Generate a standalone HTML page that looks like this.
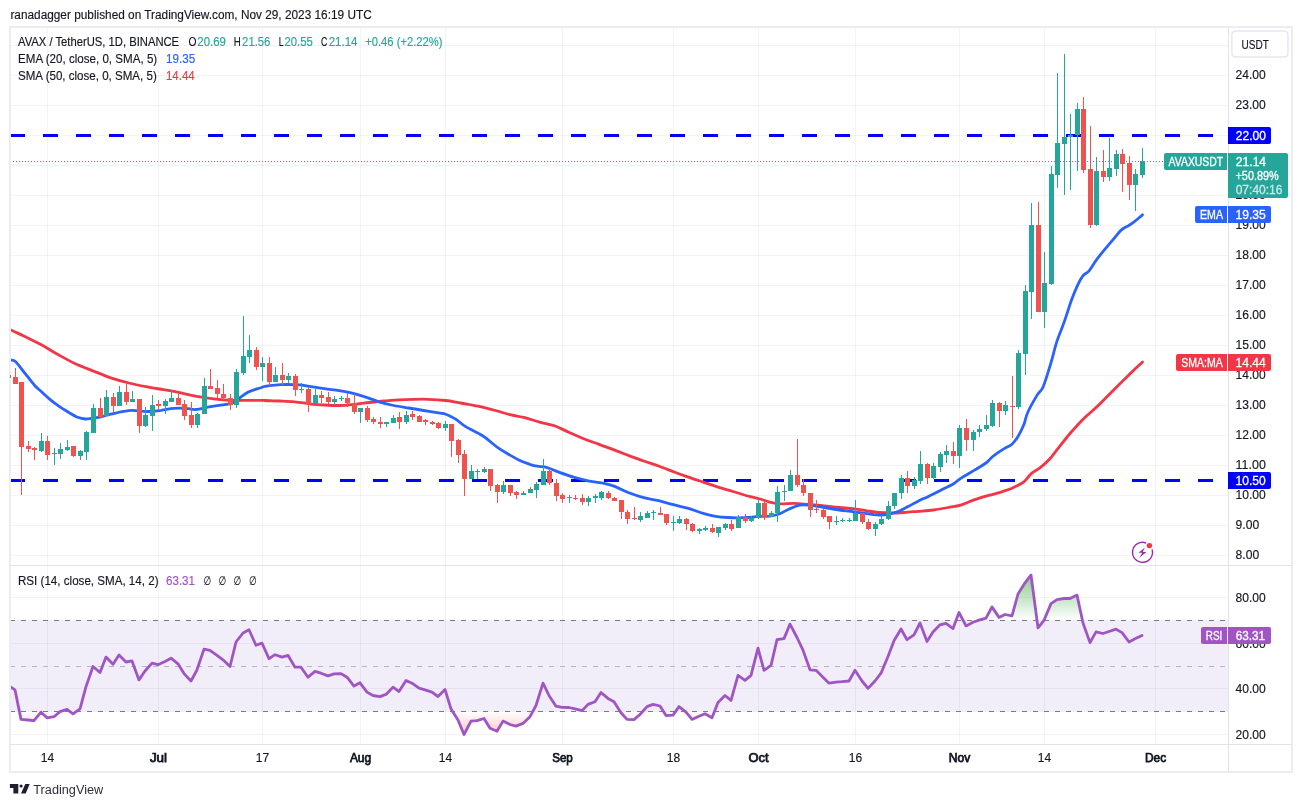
<!DOCTYPE html>
<html><head><meta charset="utf-8"><title>AVAX / TetherUS chart</title>
<style>html,body{margin:0;padding:0;background:#fff}svg{display:block;will-change:transform}</style></head>
<body>
<svg width="1302" height="807" viewBox="0 0 1302 807" font-family='"Liberation Sans", "DejaVu Sans", sans-serif' font-size="12">
<rect width="1302" height="807" fill="#fff"/>
<defs>
<clipPath id="cm"><rect x="10" y="27" width="1218.5" height="538.5"/></clipPath>
<clipPath id="cr"><rect x="10" y="565.5" width="1218.5" height="179.0"/></clipPath>
<linearGradient id="gg" gradientUnits="userSpaceOnUse" x1="0" y1="551.6" x2="0" y2="620.2"><stop offset="0" stop-color="#4caf50" stop-opacity="1"/><stop offset="1" stop-color="#4caf50" stop-opacity="0"/></linearGradient>
<linearGradient id="gr" gradientUnits="userSpaceOnUse" x1="0" y1="711.6" x2="0" y2="780.3"><stop offset="0" stop-color="#ff5252" stop-opacity="0"/><stop offset="1" stop-color="#ff5252" stop-opacity="1"/></linearGradient>
</defs>
<text x="10.4" y="18.6" fill="#131722" stroke="#131722" stroke-width="0.15" textLength="361.3" lengthAdjust="spacingAndGlyphs">ranadagger published on TradingView.com, Nov 29, 2023 16:19 UTC</text>
<g stroke="rgba(42,46,57,0.06)" stroke-width="1">
<line x1="47.5" y1="27" x2="47.5" y2="744.5"/>
<line x1="158.5" y1="27" x2="158.5" y2="744.5"/>
<line x1="262.5" y1="27" x2="262.5" y2="744.5"/>
<line x1="360.5" y1="27" x2="360.5" y2="744.5"/>
<line x1="445.5" y1="27" x2="445.5" y2="744.5"/>
<line x1="562.5" y1="27" x2="562.5" y2="744.5"/>
<line x1="673.5" y1="27" x2="673.5" y2="744.5"/>
<line x1="758.5" y1="27" x2="758.5" y2="744.5"/>
<line x1="855.5" y1="27" x2="855.5" y2="744.5"/>
<line x1="959.5" y1="27" x2="959.5" y2="744.5"/>
<line x1="1044.5" y1="27" x2="1044.5" y2="744.5"/>
<line x1="1155.5" y1="27" x2="1155.5" y2="744.5"/>
<line x1="10" y1="555.5" x2="1228.5" y2="555.5"/>
<line x1="10" y1="525.5" x2="1228.5" y2="525.5"/>
<line x1="10" y1="495.5" x2="1228.5" y2="495.5"/>
<line x1="10" y1="465.5" x2="1228.5" y2="465.5"/>
<line x1="10" y1="435.5" x2="1228.5" y2="435.5"/>
<line x1="10" y1="405.5" x2="1228.5" y2="405.5"/>
<line x1="10" y1="375.5" x2="1228.5" y2="375.5"/>
<line x1="10" y1="345.5" x2="1228.5" y2="345.5"/>
<line x1="10" y1="315.5" x2="1228.5" y2="315.5"/>
<line x1="10" y1="285.5" x2="1228.5" y2="285.5"/>
<line x1="10" y1="255.5" x2="1228.5" y2="255.5"/>
<line x1="10" y1="225.5" x2="1228.5" y2="225.5"/>
<line x1="10" y1="195.5" x2="1228.5" y2="195.5"/>
<line x1="10" y1="165.5" x2="1228.5" y2="165.5"/>
<line x1="10" y1="135.5" x2="1228.5" y2="135.5"/>
<line x1="10" y1="105.5" x2="1228.5" y2="105.5"/>
<line x1="10" y1="75.5" x2="1228.5" y2="75.5"/>
<line x1="10" y1="45.5" x2="1228.5" y2="45.5"/>
<line x1="10" y1="597.5" x2="1228.5" y2="597.5"/>
<line x1="10" y1="643.5" x2="1228.5" y2="643.5"/>
<line x1="10" y1="688.5" x2="1228.5" y2="688.5"/>
<line x1="10" y1="734.5" x2="1228.5" y2="734.5"/>
</g>
<g clip-path="url(#cm)">
<line x1="10" y1="135.5" x2="1228.5" y2="135.5" stroke="#0000ff" stroke-width="3" stroke-dasharray="15 18"/>
<line x1="10" y1="480.5" x2="1228.5" y2="480.5" stroke="#0000ff" stroke-width="3" stroke-dasharray="15 18"/>
<path d="M10.4 329.7 C12.8 330.9 19.7 334.0 24.8 336.4 C29.9 338.9 35.5 341.7 40.9 344.6 C46.3 347.5 51.4 350.9 57.0 354.0 C62.6 357.1 68.2 360.3 74.3 363.2 C80.5 366.1 88.0 368.9 94.2 371.4 C100.4 373.9 105.7 376.1 111.5 378.1 C117.3 380.0 123.1 381.6 128.9 383.0 C134.7 384.5 140.4 385.6 146.2 386.7 C152.0 387.9 157.8 388.7 163.6 389.7 C169.4 390.7 175.1 391.8 180.9 392.9 C186.7 394.1 192.5 395.6 198.3 396.7 C204.0 397.7 210.2 398.5 215.6 399.1 C221.0 399.8 225.1 400.2 230.5 400.4 C235.9 400.6 242.9 400.4 247.8 400.4 C252.7 400.4 257.1 400.3 260.0 400.4 C262.8 400.4 261.6 400.4 264.9 400.5 C268.2 400.7 274.8 400.8 279.7 401.0 C284.7 401.2 289.7 401.3 294.6 401.8 C299.6 402.2 304.5 403.2 309.5 403.8 C314.4 404.3 319.4 404.7 324.3 405.0 C329.3 405.3 334.3 405.6 339.2 405.5 C344.2 405.4 349.1 404.8 354.1 404.3 C359.0 403.8 364.0 403.1 369.0 402.5 C373.9 402.0 378.9 401.5 383.8 401.0 C388.8 400.6 393.7 400.1 398.7 399.8 C403.7 399.5 408.6 399.4 413.6 399.3 C418.5 399.2 423.1 399.1 428.4 399.3 C433.8 399.5 440.4 399.9 445.8 400.5 C451.2 401.2 455.3 402.1 460.7 403.0 C466.0 404.0 472.2 405.0 478.0 406.2 C483.8 407.5 490.0 409.1 495.4 410.5 C500.7 411.9 505.1 413.5 510.0 414.7 C514.9 415.9 519.8 416.4 524.8 417.7 C529.7 418.9 534.7 420.8 539.7 422.1 C544.6 423.5 549.6 424.1 554.5 425.8 C559.5 427.6 564.4 430.4 569.4 432.5 C574.3 434.7 579.3 437.0 584.3 439.0 C589.2 441.0 594.2 442.6 599.1 444.4 C604.1 446.3 609.0 448.0 614.0 449.9 C619.0 451.7 623.9 453.7 628.9 455.6 C633.8 457.4 638.8 459.3 643.7 461.0 C648.7 462.8 653.7 464.2 658.6 466.0 C663.6 467.8 668.5 469.8 673.5 471.7 C678.4 473.6 683.4 475.4 688.4 477.1 C693.3 478.9 698.3 480.5 703.2 482.1 C708.2 483.8 713.1 485.5 718.1 487.1 C723.0 488.6 728.0 490.0 733.0 491.5 C737.9 493.0 743.3 494.7 747.8 496.0 C752.3 497.2 756.3 497.9 760.0 499.0 C763.6 500.0 766.5 501.3 769.8 502.1 C773.1 502.9 775.6 503.6 779.7 503.8 C783.9 504.0 789.7 503.2 794.6 503.3 C799.6 503.5 804.5 504.2 809.5 504.6 C814.4 505.0 819.4 505.3 824.3 505.8 C829.3 506.3 834.3 507.1 839.2 507.5 C844.2 508.0 849.5 508.2 854.1 508.8 C858.6 509.3 862.4 510.1 866.5 510.8 C870.6 511.4 874.7 512.1 878.9 512.5 C883.0 512.9 887.1 513.0 891.3 513.0 C895.4 513.0 899.1 512.8 903.7 512.5 C908.2 512.2 913.6 511.7 918.5 511.3 C923.5 510.9 928.4 510.6 933.4 510.0 C938.4 509.4 943.7 508.4 948.3 507.5 C952.8 506.7 956.4 506.3 960.7 505.1 C965.0 503.8 969.3 501.5 974.1 499.9 C978.9 498.3 985.1 496.5 989.7 495.2 C994.3 493.9 997.9 493.0 1001.6 491.8 C1005.3 490.6 1008.3 489.9 1012.0 488.2 C1015.7 486.5 1020.7 484.2 1023.9 481.8 C1027.1 479.4 1028.6 476.0 1031.3 473.6 C1034.0 471.2 1037.2 470.1 1040.2 467.7 C1043.2 465.3 1046.2 462.7 1049.2 459.5 C1052.2 456.3 1054.6 452.7 1058.1 448.4 C1061.6 444.1 1065.8 438.4 1070.0 433.5 C1074.2 428.6 1078.9 423.3 1083.3 418.9 C1087.7 414.5 1091.9 411.6 1096.6 407.1 C1101.3 402.7 1106.5 397.1 1111.4 392.2 C1116.4 387.2 1121.1 382.4 1126.3 377.4 C1131.5 372.3 1139.8 364.5 1142.5 361.9" fill="none" stroke="#f23645" stroke-width="2.8" stroke-linejoin="round" stroke-linecap="round"/>
<path d="M10.4 360.2 C11.2 360.4 13.0 359.3 15.4 361.5 C17.8 363.6 21.6 369.1 24.8 373.1 C28.0 377.1 32.0 382.5 34.7 385.5 C37.4 388.5 38.4 388.9 40.9 391.2 C43.4 393.5 46.5 396.6 49.6 399.1 C52.7 401.7 56.2 404.3 59.5 406.6 C62.8 408.8 66.5 411.0 69.4 412.8 C72.3 414.5 74.1 415.9 76.8 417.0 C79.5 418.0 82.2 418.8 85.5 419.0 C88.8 419.1 93.1 418.3 96.7 417.7 C100.2 417.1 103.3 416.1 106.6 415.2 C109.9 414.4 112.4 413.6 116.5 412.8 C120.6 411.9 126.4 410.5 131.4 410.3 C136.3 410.1 141.3 411.5 146.2 411.5 C151.2 411.5 156.5 410.8 161.1 410.3 C165.6 409.7 169.4 408.6 173.5 408.3 C177.6 408.0 182.2 408.1 185.9 408.3 C189.6 408.5 191.7 409.8 195.8 409.5 C199.9 409.3 204.9 407.6 210.7 406.6 C216.4 405.6 225.9 404.8 230.5 403.6 C235.0 402.4 235.0 401.0 237.9 399.1 C240.8 397.2 244.2 394.1 247.8 392.2 C251.5 390.3 257.1 388.9 260.0 388.0 C262.8 387.0 262.4 386.9 264.9 386.4 C267.3 386.0 271.1 385.5 274.8 385.2 C278.5 384.8 283.0 384.5 287.2 384.4 C291.3 384.4 295.8 384.6 299.6 384.9 C303.3 385.3 305.3 385.8 309.5 386.4 C313.6 387.0 319.4 387.9 324.3 388.6 C329.3 389.4 334.3 389.8 339.2 390.6 C344.2 391.5 349.5 392.5 354.1 393.6 C358.6 394.7 362.4 396.0 366.5 397.3 C370.6 398.7 374.3 400.4 378.9 401.8 C383.4 403.1 388.8 404.5 393.7 405.5 C398.7 406.5 403.7 407.2 408.6 408.0 C413.6 408.8 418.5 409.6 423.5 410.5 C428.4 411.3 434.6 412.3 438.4 412.9 C442.1 413.6 442.9 413.1 445.8 414.2 C448.7 415.2 452.4 417.1 455.7 419.1 C459.0 421.2 461.1 423.8 465.6 426.6 C470.2 429.4 477.6 432.5 483.0 436.0 C488.3 439.5 493.3 444.5 497.8 447.6 C502.3 450.8 506.3 452.9 510.0 455.1 C513.6 457.2 516.5 459.0 519.8 460.5 C523.1 462.1 526.8 463.3 529.7 464.3 C532.6 465.2 534.9 465.8 537.2 466.2 C539.4 466.7 541.3 466.4 543.4 466.7 C545.4 467.1 546.9 467.5 549.6 468.5 C552.3 469.4 555.3 471.0 559.5 472.4 C563.6 473.9 569.4 476.0 574.3 477.4 C579.3 478.8 584.3 480.1 589.2 481.1 C594.2 482.1 600.0 482.5 604.1 483.3 C608.2 484.2 609.9 484.5 614.0 486.1 C618.1 487.6 623.9 490.8 628.9 492.8 C633.8 494.7 638.8 496.4 643.7 497.7 C648.7 499.0 653.7 499.5 658.6 500.7 C663.6 501.9 668.5 503.4 673.5 504.7 C678.4 505.9 683.4 506.9 688.4 508.4 C693.3 509.8 698.7 512.0 703.2 513.3 C707.8 514.7 711.5 515.6 715.6 516.3 C719.7 517.0 724.3 517.3 728.0 517.5 C731.7 517.8 734.6 517.8 737.9 517.8 C741.2 517.8 744.2 517.8 747.8 517.5 C751.5 517.3 756.3 516.5 760.0 516.3 C763.6 516.1 766.5 516.6 769.8 516.2 C773.1 515.8 776.4 515.0 779.7 513.7 C783.0 512.5 786.3 510.2 789.7 508.8 C793.0 507.3 796.3 505.7 799.6 505.1 C802.9 504.4 805.3 504.7 809.5 505.1 C813.6 505.5 819.4 506.7 824.3 507.5 C829.3 508.4 834.3 509.3 839.2 510.0 C844.2 510.7 849.5 511.1 854.1 511.8 C858.6 512.4 862.4 513.2 866.5 513.7 C870.6 514.3 875.2 514.9 878.9 515.0 C882.6 515.1 885.5 514.9 888.8 514.2 C892.1 513.6 895.4 512.6 898.7 511.3 C902.0 509.9 905.3 508.0 908.6 506.3 C911.9 504.6 915.2 502.5 918.5 500.9 C921.8 499.2 924.7 498.2 928.4 496.4 C932.2 494.6 936.7 492.3 940.8 490.2 C945.0 488.1 950.0 485.9 953.2 484.0 C956.4 482.1 956.4 481.2 960.0 478.8 C963.6 476.4 970.4 472.6 974.9 469.9 C979.4 467.2 983.7 464.7 986.7 462.5 C989.7 460.3 989.7 458.9 992.7 456.5 C995.7 454.1 1001.4 450.4 1004.6 448.4 C1007.8 446.3 1009.8 446.2 1012.0 444.2 C1014.2 442.2 1016.0 439.8 1018.0 436.5 C1020.0 433.2 1022.3 428.6 1023.9 424.6 C1025.5 420.6 1025.4 417.6 1027.6 412.7 C1029.8 407.8 1034.7 399.2 1037.3 394.9 C1039.9 390.6 1041.0 391.9 1043.2 386.7 C1045.4 381.5 1048.4 371.3 1050.7 363.7 C1053.0 356.2 1054.6 348.5 1056.9 341.4 C1059.2 334.4 1061.9 328.6 1064.3 321.6 C1066.8 314.6 1069.5 305.5 1071.8 299.3 C1074.1 293.1 1076.1 288.4 1078.0 284.4 C1079.8 280.5 1081.1 278.0 1082.9 275.8 C1084.8 273.5 1086.9 273.5 1089.1 270.8 C1091.4 268.1 1093.7 263.6 1096.6 259.7 C1099.5 255.7 1103.6 250.8 1106.5 247.3 C1109.4 243.8 1111.4 241.5 1113.9 238.6 C1116.4 235.7 1118.9 232.1 1121.4 229.9 C1123.8 227.7 1126.7 226.7 1128.8 225.5 C1130.8 224.2 1131.4 224.0 1133.7 222.2 C1136.0 220.4 1141.0 216.0 1142.5 214.8" fill="none" stroke="#2962ff" stroke-width="2.8" stroke-linejoin="round" stroke-linecap="round"/>
<rect x="15" y="368" width="1" height="16" fill="#ef5350"/><rect x="13" y="377" width="5" height="7" fill="#ef5350"/>
<rect x="21" y="382" width="1" height="113" fill="#ef5350"/><rect x="19" y="382" width="5" height="65" fill="#ef5350"/>
<rect x="28" y="441" width="1" height="11" fill="#ef5350"/><rect x="26" y="446" width="5" height="3" fill="#ef5350"/>
<rect x="34" y="447" width="1" height="13" fill="#ef5350"/><rect x="32" y="448" width="5" height="2" fill="#ef5350"/>
<rect x="41" y="433" width="1" height="19" fill="#26a69a"/><rect x="39" y="441" width="5" height="10" fill="#26a69a"/>
<rect x="47" y="436" width="1" height="24" fill="#ef5350"/><rect x="45" y="441" width="5" height="14" fill="#ef5350"/>
<rect x="54" y="448" width="1" height="17" fill="#26a69a"/><rect x="52" y="453" width="5" height="1" fill="#26a69a"/>
<rect x="60" y="443" width="1" height="16" fill="#26a69a"/><rect x="58" y="449" width="5" height="5" fill="#26a69a"/>
<rect x="67" y="440" width="1" height="11" fill="#26a69a"/><rect x="65" y="447" width="5" height="3" fill="#26a69a"/>
<rect x="73" y="446" width="1" height="11" fill="#ef5350"/><rect x="71" y="446" width="5" height="10" fill="#ef5350"/>
<rect x="80" y="450" width="1" height="10" fill="#26a69a"/><rect x="78" y="451" width="5" height="5" fill="#26a69a"/>
<rect x="86" y="431" width="1" height="29" fill="#26a69a"/><rect x="84" y="432" width="5" height="20" fill="#26a69a"/>
<rect x="93" y="404" width="1" height="29" fill="#26a69a"/><rect x="91" y="408" width="5" height="25" fill="#26a69a"/>
<rect x="100" y="398" width="1" height="20" fill="#ef5350"/><rect x="98" y="408" width="5" height="9" fill="#ef5350"/>
<rect x="106" y="390" width="1" height="26" fill="#26a69a"/><rect x="104" y="397" width="5" height="19" fill="#26a69a"/>
<rect x="113" y="393" width="1" height="20" fill="#ef5350"/><rect x="111" y="397" width="5" height="9" fill="#ef5350"/>
<rect x="119" y="386" width="1" height="20" fill="#26a69a"/><rect x="117" y="392" width="5" height="14" fill="#26a69a"/>
<rect x="126" y="384" width="1" height="21" fill="#ef5350"/><rect x="124" y="392" width="5" height="10" fill="#ef5350"/>
<rect x="132" y="391" width="1" height="11" fill="#26a69a"/><rect x="130" y="399" width="5" height="3" fill="#26a69a"/>
<rect x="139" y="399" width="1" height="34" fill="#ef5350"/><rect x="137" y="399" width="5" height="27" fill="#ef5350"/>
<rect x="145" y="407" width="1" height="20" fill="#26a69a"/><rect x="143" y="415" width="5" height="11" fill="#26a69a"/>
<rect x="152" y="395" width="1" height="36" fill="#26a69a"/><rect x="150" y="405" width="5" height="11" fill="#26a69a"/>
<rect x="158" y="400" width="1" height="9" fill="#ef5350"/><rect x="156" y="404" width="5" height="2" fill="#ef5350"/>
<rect x="165" y="399" width="1" height="15" fill="#26a69a"/><rect x="163" y="401" width="5" height="5" fill="#26a69a"/>
<rect x="171" y="390" width="1" height="12" fill="#26a69a"/><rect x="169" y="398" width="5" height="4" fill="#26a69a"/>
<rect x="178" y="394" width="1" height="11" fill="#ef5350"/><rect x="176" y="398" width="5" height="7" fill="#ef5350"/>
<rect x="184" y="400" width="1" height="20" fill="#ef5350"/><rect x="182" y="404" width="5" height="12" fill="#ef5350"/>
<rect x="191" y="402" width="1" height="26" fill="#ef5350"/><rect x="189" y="415" width="5" height="10" fill="#ef5350"/>
<rect x="197" y="413" width="1" height="15" fill="#26a69a"/><rect x="195" y="414" width="5" height="11" fill="#26a69a"/>
<rect x="204" y="378" width="1" height="36" fill="#26a69a"/><rect x="202" y="386" width="5" height="28" fill="#26a69a"/>
<rect x="210" y="369" width="1" height="20" fill="#ef5350"/><rect x="208" y="386" width="5" height="3" fill="#ef5350"/>
<rect x="217" y="380" width="1" height="18" fill="#ef5350"/><rect x="215" y="388" width="5" height="6" fill="#ef5350"/>
<rect x="223" y="384" width="1" height="16" fill="#ef5350"/><rect x="221" y="394" width="5" height="4" fill="#ef5350"/>
<rect x="230" y="394" width="1" height="16" fill="#ef5350"/><rect x="228" y="398" width="5" height="7" fill="#ef5350"/>
<rect x="236" y="369" width="1" height="39" fill="#26a69a"/><rect x="234" y="372" width="5" height="33" fill="#26a69a"/>
<rect x="243" y="316" width="1" height="59" fill="#26a69a"/><rect x="241" y="356" width="5" height="17" fill="#26a69a"/>
<rect x="249" y="335" width="1" height="28" fill="#26a69a"/><rect x="247" y="350" width="5" height="7" fill="#26a69a"/>
<rect x="256" y="347" width="1" height="23" fill="#ef5350"/><rect x="254" y="350" width="5" height="17" fill="#ef5350"/>
<rect x="262" y="357" width="1" height="24" fill="#26a69a"/><rect x="260" y="363" width="5" height="4" fill="#26a69a"/>
<rect x="269" y="357" width="1" height="29" fill="#ef5350"/><rect x="267" y="363" width="5" height="19" fill="#ef5350"/>
<rect x="275" y="367" width="1" height="15" fill="#26a69a"/><rect x="273" y="375" width="5" height="7" fill="#26a69a"/>
<rect x="282" y="363" width="1" height="22" fill="#ef5350"/><rect x="280" y="375" width="5" height="5" fill="#ef5350"/>
<rect x="288" y="373" width="1" height="10" fill="#26a69a"/><rect x="286" y="376" width="5" height="4" fill="#26a69a"/>
<rect x="295" y="374" width="1" height="22" fill="#ef5350"/><rect x="293" y="376" width="5" height="14" fill="#ef5350"/>
<rect x="301" y="383" width="1" height="10" fill="#26a69a"/><rect x="299" y="389" width="5" height="1" fill="#26a69a"/>
<rect x="308" y="387" width="1" height="25" fill="#ef5350"/><rect x="306" y="389" width="5" height="15" fill="#ef5350"/>
<rect x="315" y="389" width="1" height="15" fill="#26a69a"/><rect x="313" y="395" width="5" height="9" fill="#26a69a"/>
<rect x="321" y="391" width="1" height="12" fill="#ef5350"/><rect x="319" y="395" width="5" height="3" fill="#ef5350"/>
<rect x="328" y="392" width="1" height="12" fill="#ef5350"/><rect x="326" y="397" width="5" height="5" fill="#ef5350"/>
<rect x="334" y="396" width="1" height="9" fill="#26a69a"/><rect x="332" y="399" width="5" height="3" fill="#26a69a"/>
<rect x="341" y="396" width="1" height="5" fill="#26a69a"/><rect x="339" y="398" width="5" height="1" fill="#26a69a"/>
<rect x="347" y="393" width="1" height="14" fill="#ef5350"/><rect x="345" y="398" width="5" height="5" fill="#ef5350"/>
<rect x="354" y="394" width="1" height="20" fill="#ef5350"/><rect x="352" y="403" width="5" height="9" fill="#ef5350"/>
<rect x="360" y="408" width="1" height="15" fill="#26a69a"/><rect x="358" y="408" width="5" height="4" fill="#26a69a"/>
<rect x="367" y="406" width="1" height="16" fill="#ef5350"/><rect x="365" y="408" width="5" height="12" fill="#ef5350"/>
<rect x="373" y="417" width="1" height="7" fill="#ef5350"/><rect x="371" y="419" width="5" height="3" fill="#ef5350"/>
<rect x="380" y="417" width="1" height="11" fill="#ef5350"/><rect x="378" y="422" width="5" height="2" fill="#ef5350"/>
<rect x="386" y="422" width="1" height="5" fill="#26a69a"/><rect x="384" y="422" width="5" height="2" fill="#26a69a"/>
<rect x="393" y="415" width="1" height="8" fill="#26a69a"/><rect x="391" y="418" width="5" height="5" fill="#26a69a"/>
<rect x="399" y="412" width="1" height="17" fill="#ef5350"/><rect x="397" y="417" width="5" height="5" fill="#ef5350"/>
<rect x="406" y="411" width="1" height="13" fill="#26a69a"/><rect x="404" y="415" width="5" height="7" fill="#26a69a"/>
<rect x="412" y="411" width="1" height="9" fill="#ef5350"/><rect x="410" y="414" width="5" height="3" fill="#ef5350"/>
<rect x="419" y="415" width="1" height="7" fill="#ef5350"/><rect x="417" y="416" width="5" height="6" fill="#ef5350"/>
<rect x="425" y="419" width="1" height="6" fill="#ef5350"/><rect x="423" y="420" width="5" height="2" fill="#ef5350"/>
<rect x="432" y="421" width="1" height="4" fill="#ef5350"/><rect x="430" y="422" width="5" height="2" fill="#ef5350"/>
<rect x="438" y="422" width="1" height="7" fill="#ef5350"/><rect x="436" y="423" width="5" height="5" fill="#ef5350"/>
<rect x="445" y="421" width="1" height="10" fill="#26a69a"/><rect x="443" y="424" width="5" height="4" fill="#26a69a"/>
<rect x="451" y="424" width="1" height="33" fill="#ef5350"/><rect x="449" y="424" width="5" height="17" fill="#ef5350"/>
<rect x="458" y="439" width="1" height="24" fill="#ef5350"/><rect x="456" y="440" width="5" height="15" fill="#ef5350"/>
<rect x="464" y="450" width="1" height="46" fill="#ef5350"/><rect x="462" y="454" width="5" height="25" fill="#ef5350"/>
<rect x="471" y="465" width="1" height="14" fill="#26a69a"/><rect x="469" y="471" width="5" height="8" fill="#26a69a"/>
<rect x="477" y="469" width="1" height="10" fill="#26a69a"/><rect x="475" y="471" width="5" height="1" fill="#26a69a"/>
<rect x="484" y="467" width="1" height="6" fill="#26a69a"/><rect x="482" y="469" width="5" height="3" fill="#26a69a"/>
<rect x="490" y="469" width="1" height="22" fill="#ef5350"/><rect x="488" y="469" width="5" height="17" fill="#ef5350"/>
<rect x="497" y="484" width="1" height="19" fill="#ef5350"/><rect x="495" y="485" width="5" height="7" fill="#ef5350"/>
<rect x="503" y="481" width="1" height="13" fill="#26a69a"/><rect x="501" y="485" width="5" height="7" fill="#26a69a"/>
<rect x="510" y="485" width="1" height="11" fill="#ef5350"/><rect x="508" y="485" width="5" height="8" fill="#ef5350"/>
<rect x="516" y="491" width="1" height="8" fill="#ef5350"/><rect x="514" y="492" width="5" height="3" fill="#ef5350"/>
<rect x="523" y="491" width="1" height="4" fill="#26a69a"/><rect x="521" y="493" width="5" height="2" fill="#26a69a"/>
<rect x="530" y="487" width="1" height="6" fill="#26a69a"/><rect x="528" y="489" width="5" height="4" fill="#26a69a"/>
<rect x="536" y="482" width="1" height="16" fill="#26a69a"/><rect x="534" y="484" width="5" height="6" fill="#26a69a"/>
<rect x="543" y="459" width="1" height="26" fill="#26a69a"/><rect x="541" y="471" width="5" height="14" fill="#26a69a"/>
<rect x="549" y="469" width="1" height="16" fill="#ef5350"/><rect x="547" y="471" width="5" height="12" fill="#ef5350"/>
<rect x="556" y="479" width="1" height="22" fill="#ef5350"/><rect x="554" y="483" width="5" height="13" fill="#ef5350"/>
<rect x="562" y="493" width="1" height="10" fill="#ef5350"/><rect x="560" y="495" width="5" height="4" fill="#ef5350"/>
<rect x="569" y="495" width="1" height="8" fill="#26a69a"/><rect x="567" y="497" width="5" height="1" fill="#26a69a"/>
<rect x="575" y="495" width="1" height="5" fill="#ef5350"/><rect x="573" y="498" width="5" height="1" fill="#ef5350"/>
<rect x="582" y="494" width="1" height="11" fill="#ef5350"/><rect x="580" y="498" width="5" height="4" fill="#ef5350"/>
<rect x="588" y="496" width="1" height="10" fill="#26a69a"/><rect x="586" y="498" width="5" height="4" fill="#26a69a"/>
<rect x="595" y="494" width="1" height="9" fill="#26a69a"/><rect x="593" y="496" width="5" height="2" fill="#26a69a"/>
<rect x="601" y="491" width="1" height="9" fill="#26a69a"/><rect x="599" y="492" width="5" height="6" fill="#26a69a"/>
<rect x="608" y="491" width="1" height="8" fill="#ef5350"/><rect x="606" y="493" width="5" height="5" fill="#ef5350"/>
<rect x="614" y="497" width="1" height="4" fill="#ef5350"/><rect x="612" y="498" width="5" height="3" fill="#ef5350"/>
<rect x="621" y="500" width="1" height="19" fill="#ef5350"/><rect x="619" y="500" width="5" height="12" fill="#ef5350"/>
<rect x="627" y="510" width="1" height="14" fill="#ef5350"/><rect x="625" y="512" width="5" height="7" fill="#ef5350"/>
<rect x="634" y="507" width="1" height="13" fill="#ef5350"/><rect x="632" y="518" width="5" height="1" fill="#ef5350"/>
<rect x="640" y="512" width="1" height="10" fill="#26a69a"/><rect x="638" y="516" width="5" height="4" fill="#26a69a"/>
<rect x="647" y="511" width="1" height="7" fill="#26a69a"/><rect x="645" y="513" width="5" height="5" fill="#26a69a"/>
<rect x="653" y="510" width="1" height="10" fill="#26a69a"/><rect x="651" y="512" width="5" height="1" fill="#26a69a"/>
<rect x="660" y="507" width="1" height="8" fill="#ef5350"/><rect x="658" y="513" width="5" height="2" fill="#ef5350"/>
<rect x="666" y="514" width="1" height="11" fill="#ef5350"/><rect x="664" y="514" width="5" height="9" fill="#ef5350"/>
<rect x="673" y="516" width="1" height="15" fill="#26a69a"/><rect x="671" y="522" width="5" height="1" fill="#26a69a"/>
<rect x="679" y="516" width="1" height="8" fill="#26a69a"/><rect x="677" y="519" width="5" height="4" fill="#26a69a"/>
<rect x="686" y="518" width="1" height="12" fill="#ef5350"/><rect x="684" y="519" width="5" height="5" fill="#ef5350"/>
<rect x="692" y="523" width="1" height="9" fill="#ef5350"/><rect x="690" y="524" width="5" height="7" fill="#ef5350"/>
<rect x="699" y="528" width="1" height="6" fill="#26a69a"/><rect x="697" y="529" width="5" height="2" fill="#26a69a"/>
<rect x="705" y="526" width="1" height="5" fill="#26a69a"/><rect x="703" y="528" width="5" height="2" fill="#26a69a"/>
<rect x="712" y="524" width="1" height="9" fill="#ef5350"/><rect x="710" y="528" width="5" height="4" fill="#ef5350"/>
<rect x="718" y="527" width="1" height="10" fill="#26a69a"/><rect x="716" y="527" width="5" height="6" fill="#26a69a"/>
<rect x="725" y="523" width="1" height="7" fill="#26a69a"/><rect x="723" y="524" width="5" height="4" fill="#26a69a"/>
<rect x="731" y="520" width="1" height="11" fill="#ef5350"/><rect x="729" y="524" width="5" height="5" fill="#ef5350"/>
<rect x="738" y="515" width="1" height="13" fill="#26a69a"/><rect x="736" y="517" width="5" height="11" fill="#26a69a"/>
<rect x="745" y="514" width="1" height="9" fill="#ef5350"/><rect x="743" y="517" width="5" height="4" fill="#ef5350"/>
<rect x="751" y="516" width="1" height="6" fill="#26a69a"/><rect x="749" y="518" width="5" height="3" fill="#26a69a"/>
<rect x="758" y="499" width="1" height="20" fill="#26a69a"/><rect x="756" y="503" width="5" height="15" fill="#26a69a"/>
<rect x="764" y="501" width="1" height="19" fill="#ef5350"/><rect x="762" y="503" width="5" height="14" fill="#ef5350"/>
<rect x="771" y="511" width="1" height="6" fill="#26a69a"/><rect x="769" y="513" width="5" height="4" fill="#26a69a"/>
<rect x="777" y="486" width="1" height="36" fill="#26a69a"/><rect x="775" y="492" width="5" height="21" fill="#26a69a"/>
<rect x="784" y="485" width="1" height="16" fill="#26a69a"/><rect x="782" y="491" width="5" height="1" fill="#26a69a"/>
<rect x="790" y="470" width="1" height="21" fill="#26a69a"/><rect x="788" y="475" width="5" height="16" fill="#26a69a"/>
<rect x="797" y="439" width="1" height="48" fill="#ef5350"/><rect x="795" y="475" width="5" height="10" fill="#ef5350"/>
<rect x="803" y="479" width="1" height="17" fill="#ef5350"/><rect x="801" y="485" width="5" height="8" fill="#ef5350"/>
<rect x="810" y="493" width="1" height="24" fill="#ef5350"/><rect x="808" y="493" width="5" height="17" fill="#ef5350"/>
<rect x="816" y="500" width="1" height="13" fill="#ef5350"/><rect x="814" y="509" width="5" height="1" fill="#ef5350"/>
<rect x="823" y="509" width="1" height="10" fill="#ef5350"/><rect x="821" y="510" width="5" height="7" fill="#ef5350"/>
<rect x="829" y="516" width="1" height="13" fill="#ef5350"/><rect x="827" y="516" width="5" height="6" fill="#ef5350"/>
<rect x="836" y="516" width="1" height="9" fill="#26a69a"/><rect x="834" y="521" width="5" height="1" fill="#26a69a"/>
<rect x="842" y="518" width="1" height="4" fill="#26a69a"/><rect x="840" y="520" width="5" height="1" fill="#26a69a"/>
<rect x="849" y="518" width="1" height="4" fill="#26a69a"/><rect x="847" y="520" width="5" height="1" fill="#26a69a"/>
<rect x="855" y="500" width="1" height="21" fill="#26a69a"/><rect x="853" y="513" width="5" height="8" fill="#26a69a"/>
<rect x="862" y="513" width="1" height="11" fill="#ef5350"/><rect x="860" y="513" width="5" height="9" fill="#ef5350"/>
<rect x="868" y="519" width="1" height="11" fill="#ef5350"/><rect x="866" y="522" width="5" height="7" fill="#ef5350"/>
<rect x="875" y="522" width="1" height="14" fill="#26a69a"/><rect x="873" y="524" width="5" height="5" fill="#26a69a"/>
<rect x="881" y="515" width="1" height="10" fill="#26a69a"/><rect x="879" y="519" width="5" height="5" fill="#26a69a"/>
<rect x="888" y="501" width="1" height="19" fill="#26a69a"/><rect x="886" y="506" width="5" height="13" fill="#26a69a"/>
<rect x="894" y="493" width="1" height="16" fill="#26a69a"/><rect x="892" y="493" width="5" height="13" fill="#26a69a"/>
<rect x="901" y="475" width="1" height="24" fill="#26a69a"/><rect x="899" y="478" width="5" height="15" fill="#26a69a"/>
<rect x="907" y="471" width="1" height="22" fill="#ef5350"/><rect x="905" y="478" width="5" height="8" fill="#ef5350"/>
<rect x="914" y="477" width="1" height="12" fill="#26a69a"/><rect x="912" y="480" width="5" height="6" fill="#26a69a"/>
<rect x="920" y="451" width="1" height="33" fill="#26a69a"/><rect x="918" y="464" width="5" height="17" fill="#26a69a"/>
<rect x="927" y="463" width="1" height="21" fill="#ef5350"/><rect x="925" y="464" width="5" height="14" fill="#ef5350"/>
<rect x="933" y="463" width="1" height="16" fill="#26a69a"/><rect x="931" y="466" width="5" height="12" fill="#26a69a"/>
<rect x="940" y="452" width="1" height="20" fill="#26a69a"/><rect x="938" y="454" width="5" height="13" fill="#26a69a"/>
<rect x="946" y="445" width="1" height="18" fill="#26a69a"/><rect x="944" y="451" width="5" height="4" fill="#26a69a"/>
<rect x="953" y="442" width="1" height="22" fill="#ef5350"/><rect x="951" y="451" width="5" height="5" fill="#ef5350"/>
<rect x="959" y="425" width="1" height="43" fill="#26a69a"/><rect x="957" y="428" width="5" height="28" fill="#26a69a"/>
<rect x="966" y="419" width="1" height="32" fill="#ef5350"/><rect x="964" y="428" width="5" height="12" fill="#ef5350"/>
<rect x="973" y="430" width="1" height="21" fill="#26a69a"/><rect x="971" y="432" width="5" height="8" fill="#26a69a"/>
<rect x="979" y="425" width="1" height="12" fill="#26a69a"/><rect x="977" y="429" width="5" height="3" fill="#26a69a"/>
<rect x="986" y="415" width="1" height="16" fill="#26a69a"/><rect x="984" y="425" width="5" height="4" fill="#26a69a"/>
<rect x="992" y="400" width="1" height="27" fill="#26a69a"/><rect x="990" y="403" width="5" height="23" fill="#26a69a"/>
<rect x="999" y="402" width="1" height="25" fill="#ef5350"/><rect x="997" y="403" width="5" height="8" fill="#ef5350"/>
<rect x="1005" y="401" width="1" height="14" fill="#26a69a"/><rect x="1003" y="405" width="5" height="6" fill="#26a69a"/>
<rect x="1012" y="376" width="1" height="62" fill="#ef5350"/><rect x="1010" y="406" width="5" height="1" fill="#ef5350"/>
<rect x="1018" y="350" width="1" height="59" fill="#26a69a"/><rect x="1016" y="353" width="5" height="54" fill="#26a69a"/>
<rect x="1025" y="285" width="1" height="90" fill="#26a69a"/><rect x="1023" y="291" width="5" height="63" fill="#26a69a"/>
<rect x="1031" y="203" width="1" height="116" fill="#26a69a"/><rect x="1029" y="225" width="5" height="67" fill="#26a69a"/>
<rect x="1038" y="202" width="1" height="110" fill="#ef5350"/><rect x="1036" y="225" width="5" height="87" fill="#ef5350"/>
<rect x="1044" y="252" width="1" height="76" fill="#26a69a"/><rect x="1042" y="283" width="5" height="29" fill="#26a69a"/>
<rect x="1051" y="166" width="1" height="119" fill="#26a69a"/><rect x="1049" y="174" width="5" height="110" fill="#26a69a"/>
<rect x="1057" y="73" width="1" height="115" fill="#26a69a"/><rect x="1055" y="143" width="5" height="32" fill="#26a69a"/>
<rect x="1064" y="54" width="1" height="141" fill="#26a69a"/><rect x="1062" y="137" width="5" height="7" fill="#26a69a"/>
<rect x="1070" y="114" width="1" height="76" fill="#26a69a"/><rect x="1068" y="135" width="5" height="2" fill="#26a69a"/>
<rect x="1077" y="103" width="1" height="68" fill="#26a69a"/><rect x="1075" y="109" width="5" height="26" fill="#26a69a"/>
<rect x="1083" y="97" width="1" height="76" fill="#ef5350"/><rect x="1081" y="109" width="5" height="61" fill="#ef5350"/>
<rect x="1090" y="126" width="1" height="102" fill="#ef5350"/><rect x="1088" y="169" width="5" height="56" fill="#ef5350"/>
<rect x="1096" y="157" width="1" height="69" fill="#26a69a"/><rect x="1094" y="171" width="5" height="54" fill="#26a69a"/>
<rect x="1103" y="150" width="1" height="32" fill="#ef5350"/><rect x="1101" y="171" width="5" height="6" fill="#ef5350"/>
<rect x="1109" y="138" width="1" height="43" fill="#26a69a"/><rect x="1107" y="168" width="5" height="9" fill="#26a69a"/>
<rect x="1116" y="150" width="1" height="26" fill="#26a69a"/><rect x="1114" y="154" width="5" height="15" fill="#26a69a"/>
<rect x="1122" y="149" width="1" height="43" fill="#ef5350"/><rect x="1120" y="154" width="5" height="10" fill="#ef5350"/>
<rect x="1129" y="156" width="1" height="44" fill="#ef5350"/><rect x="1127" y="163" width="5" height="22" fill="#ef5350"/>
<rect x="1135" y="169" width="1" height="42" fill="#26a69a"/><rect x="1133" y="174" width="5" height="11" fill="#26a69a"/>
<rect x="1142" y="148" width="1" height="30" fill="#26a69a"/><rect x="1140" y="161" width="5" height="14" fill="#26a69a"/>
<rect x="6" y="375" width="5" height="2" fill="#ef5350"/>
<line x1="10" y1="161.5" x2="1228.5" y2="161.5" stroke="#26a69a" stroke-width="1" stroke-dasharray="1 2"/>
</g>
<circle cx="1142.5" cy="552.3" r="11.8" fill="#fff"/>
<path d="M1146.1 543.0 A10 10 0 1 0 1152.1 549.5" fill="none" stroke="#9c27b0" stroke-width="1.4"/>
<path d="M1145.0 547.4 L1138.4 552.8 L1142.3 552.8 L1139.2 557.8 L1146.5 552.0 L1142.6 552.0 Z" fill="#9c27b0"/>
<circle cx="1149.4" cy="545.6" r="2.7" fill="#f23645"/>
<text x="18.0" y="45.9" fill="#131722" stroke="#131722" stroke-width="0.15" textLength="161.1" lengthAdjust="spacingAndGlyphs">AVAX / TetherUS, 1D, BINANCE</text>
<text x="188.4" y="45.9" fill="#131722" stroke="#131722" stroke-width="0.15" textLength="8.0" lengthAdjust="spacingAndGlyphs">O</text>
<text x="197.3" y="45.9" fill="#26a69a" stroke="#26a69a" stroke-width="0.15" textLength="28.6" lengthAdjust="spacingAndGlyphs">20.69</text>
<text x="233.8" y="45.9" fill="#131722" stroke="#131722" stroke-width="0.15" textLength="7.0" lengthAdjust="spacingAndGlyphs">H</text>
<text x="242.1" y="45.9" fill="#26a69a" stroke="#26a69a" stroke-width="0.15" textLength="28.3" lengthAdjust="spacingAndGlyphs">21.56</text>
<text x="278.7" y="45.9" fill="#131722" stroke="#131722" stroke-width="0.15" textLength="4.9" lengthAdjust="spacingAndGlyphs">L</text>
<text x="284.5" y="45.9" fill="#26a69a" stroke="#26a69a" stroke-width="0.15" textLength="28.3" lengthAdjust="spacingAndGlyphs">20.55</text>
<text x="321.1" y="45.9" fill="#131722" stroke="#131722" stroke-width="0.15" textLength="6.3" lengthAdjust="spacingAndGlyphs">C</text>
<text x="328.7" y="45.9" fill="#26a69a" stroke="#26a69a" stroke-width="0.15" textLength="28.8" lengthAdjust="spacingAndGlyphs">21.14</text>
<text x="365.2" y="45.9" fill="#26a69a" stroke="#26a69a" stroke-width="0.15" textLength="77.4" lengthAdjust="spacingAndGlyphs">+0.46 (+2.22%)</text>
<text x="18.0" y="63.0" fill="#131722" stroke="#131722" stroke-width="0.15" textLength="139.2" lengthAdjust="spacingAndGlyphs">EMA (20, close, 0, SMA, 5)</text>
<text x="166.0" y="63.0" fill="#2962ff" stroke="#2962ff" stroke-width="0.15" textLength="29.2" lengthAdjust="spacingAndGlyphs">19.35</text>
<text x="18.0" y="80.0" fill="#131722" stroke="#131722" stroke-width="0.15" textLength="138.8" lengthAdjust="spacingAndGlyphs">SMA (50, close, 0, SMA, 5)</text>
<text x="166.0" y="80.0" fill="#f23645" stroke="#f23645" stroke-width="0.15" textLength="28.6" lengthAdjust="spacingAndGlyphs">14.44</text>
<g clip-path="url(#cr)">
<rect x="10" y="620" width="1218.5" height="92" fill="#7e57c2" fill-opacity="0.1"/>
<path d="M956.1 620.2 L959.0 612.5 L963.0 620.2 Z" fill="url(#gg)"/>
<path d="M978.8 620.2 L979.0 620.1 L986.0 618.1 L992.0 606.9 L999.0 617.4 L1005.0 614.5 L1012.0 615.9 L1018.0 594.0 L1025.0 582.8 L1031.0 575.0 L1037.0 620.2 Z" fill="url(#gg)"/>
<path d="M1044.1 620.2 L1051.0 603.6 L1057.0 599.6 L1064.0 598.5 L1070.0 598.5 L1077.0 595.1 L1082.4 620.2 Z" fill="url(#gg)"/>
<path d="M19.4 711.6 L21.0 719.4 L28.0 720.0 L34.0 720.7 L41.0 712.2 L47.0 717.8 L54.0 716.7 L59.9 711.6 Z" fill="url(#gr)"/>
<path d="M70.1 711.6 L73.0 713.8 L76.0 711.6 Z" fill="url(#gr)"/>
<path d="M452.7 711.6 L458.0 720.0 L464.0 734.5 L471.0 721.1 L477.0 720.7 L484.0 718.5 L490.0 728.3 L497.0 731.2 L503.0 721.1 L510.0 724.5 L516.0 726.1 L523.0 723.4 L530.0 716.7 L532.7 711.6 Z" fill="url(#gr)"/>
<path d="M620.3 711.6 L621.0 712.7 L627.0 719.4 L634.0 719.6 L640.0 714.5 L642.5 711.6 Z" fill="url(#gr)"/>
<path d="M663.5 711.6 L666.0 715.6 L673.0 715.1 L675.5 711.6 Z" fill="url(#gr)"/>
<path d="M685.3 711.6 L686.0 712.2 L692.0 719.4 L699.0 716.2 L705.0 713.8 L712.0 717.8 L714.4 711.6 Z" fill="url(#gr)"/>
<line x1="10" y1="620.5" x2="1228.5" y2="620.5" stroke="#787b86" stroke-width="1" stroke-dasharray="5 6"/>
<line x1="10" y1="711.5" x2="1228.5" y2="711.5" stroke="#787b86" stroke-width="1" stroke-dasharray="5 6"/>
<line x1="10" y1="666.5" x2="1228.5" y2="666.5" stroke="#b5b6bf" stroke-width="1" stroke-dasharray="5 6"/>
<path d="M10.0 686.6 L15.0 689.9 L21.0 719.4 L28.0 720.0 L34.0 720.7 L41.0 712.2 L47.0 717.8 L54.0 716.7 L60.0 711.6 L67.0 709.3 L73.0 713.8 L80.0 708.9 L86.0 686.6 L93.0 666.5 L100.0 672.5 L106.0 657.1 L113.0 664.3 L119.0 654.9 L126.0 662.0 L132.0 660.9 L139.0 679.9 L145.0 671.0 L152.0 663.1 L158.0 664.7 L165.0 661.4 L171.0 658.2 L178.0 663.8 L184.0 673.6 L191.0 681.0 L197.0 669.8 L204.0 649.1 L210.0 650.4 L217.0 655.3 L223.0 659.8 L230.0 666.5 L236.0 642.0 L243.0 633.0 L249.0 629.7 L256.0 645.3 L262.0 643.1 L269.0 658.7 L275.0 654.7 L282.0 657.1 L288.0 655.3 L295.0 667.2 L301.0 667.2 L308.0 677.2 L315.0 671.4 L321.0 673.2 L328.0 675.9 L334.0 673.9 L341.0 673.6 L347.0 677.2 L354.0 686.1 L360.0 682.8 L367.0 692.1 L373.0 695.5 L380.0 696.6 L386.0 694.4 L393.0 687.2 L399.0 691.5 L406.0 680.5 L412.0 683.2 L419.0 688.1 L425.0 689.9 L432.0 692.1 L438.0 696.6 L445.0 689.5 L451.0 708.9 L458.0 720.0 L464.0 734.5 L471.0 721.1 L477.0 720.7 L484.0 718.5 L490.0 728.3 L497.0 731.2 L503.0 721.1 L510.0 724.5 L516.0 726.1 L523.0 723.4 L530.0 716.7 L536.0 705.5 L543.0 683.2 L549.0 695.5 L556.0 706.2 L562.0 707.3 L569.0 707.5 L575.0 708.9 L582.0 710.7 L588.0 704.4 L595.0 701.7 L601.0 692.6 L608.0 698.4 L614.0 701.7 L621.0 712.7 L627.0 719.4 L634.0 719.6 L640.0 714.5 L647.0 706.6 L653.0 704.4 L660.0 706.0 L666.0 715.6 L673.0 715.1 L679.0 706.6 L686.0 712.2 L692.0 719.4 L699.0 716.2 L705.0 713.8 L712.0 717.8 L718.0 702.6 L725.0 695.5 L731.0 700.4 L738.0 675.4 L745.0 680.3 L751.0 675.4 L758.0 648.2 L764.0 670.3 L771.0 665.4 L777.0 639.7 L784.0 638.6 L790.0 624.1 L797.0 637.5 L803.0 650.2 L810.0 669.8 L816.0 670.3 L823.0 677.2 L829.0 683.2 L836.0 682.1 L842.0 681.7 L849.0 681.0 L855.0 670.3 L862.0 681.0 L868.0 688.4 L875.0 681.0 L881.0 673.2 L888.0 656.5 L894.0 640.8 L901.0 629.0 L907.0 639.7 L914.0 634.8 L920.0 623.0 L927.0 641.5 L933.0 631.9 L940.0 624.8 L946.0 623.4 L953.0 628.6 L959.0 612.5 L966.0 625.9 L973.0 622.3 L979.0 620.1 L986.0 618.1 L992.0 606.9 L999.0 617.4 L1005.0 614.5 L1012.0 615.9 L1018.0 594.0 L1025.0 582.8 L1031.0 575.0 L1038.0 627.9 L1044.0 620.3 L1051.0 603.6 L1057.0 599.6 L1064.0 598.5 L1070.0 598.5 L1077.0 595.1 L1083.0 623.0 L1090.0 642.6 L1096.0 631.9 L1103.0 633.5 L1109.0 631.5 L1116.0 629.2 L1122.0 632.6 L1129.0 642.0 L1135.0 638.8 L1142.0 635.5" fill="none" stroke="#a055c4" stroke-width="2.8" stroke-linejoin="round" stroke-linecap="round"/>
</g>
<text x="18.0" y="584.8" fill="#131722" stroke="#131722" stroke-width="0.15" textLength="140.5" lengthAdjust="spacingAndGlyphs">RSI (14, close, SMA, 14, 2)</text>
<text x="166.0" y="584.8" fill="#a055c4" stroke="#a055c4" stroke-width="0.15" textLength="29.0" lengthAdjust="spacingAndGlyphs">63.31</text>
<text x="203.5" y="584.8" fill="#131722" stroke="#131722" stroke-width="0.15" textLength="7.5" lengthAdjust="spacingAndGlyphs">&#8709;</text>
<text x="218.5" y="584.8" fill="#131722" stroke="#131722" stroke-width="0.15" textLength="7.5" lengthAdjust="spacingAndGlyphs">&#8709;</text>
<text x="233.5" y="584.8" fill="#131722" stroke="#131722" stroke-width="0.15" textLength="7.5" lengthAdjust="spacingAndGlyphs">&#8709;</text>
<text x="249.0" y="584.8" fill="#131722" stroke="#131722" stroke-width="0.15" textLength="7.5" lengthAdjust="spacingAndGlyphs">&#8709;</text>
<text x="1235.6" y="559.0" fill="#131722" stroke="#131722" stroke-width="0.15" textLength="23.6" lengthAdjust="spacingAndGlyphs">8.00</text>
<text x="1235.6" y="529.0" fill="#131722" stroke="#131722" stroke-width="0.15" textLength="23.6" lengthAdjust="spacingAndGlyphs">9.00</text>
<text x="1235.6" y="499.0" fill="#131722" stroke="#131722" stroke-width="0.15" textLength="30.2" lengthAdjust="spacingAndGlyphs">10.00</text>
<text x="1235.6" y="469.0" fill="#131722" stroke="#131722" stroke-width="0.15" textLength="30.2" lengthAdjust="spacingAndGlyphs">11.00</text>
<text x="1235.6" y="439.0" fill="#131722" stroke="#131722" stroke-width="0.15" textLength="30.2" lengthAdjust="spacingAndGlyphs">12.00</text>
<text x="1235.6" y="409.0" fill="#131722" stroke="#131722" stroke-width="0.15" textLength="30.2" lengthAdjust="spacingAndGlyphs">13.00</text>
<text x="1235.6" y="379.0" fill="#131722" stroke="#131722" stroke-width="0.15" textLength="30.2" lengthAdjust="spacingAndGlyphs">14.00</text>
<text x="1235.6" y="349.0" fill="#131722" stroke="#131722" stroke-width="0.15" textLength="30.2" lengthAdjust="spacingAndGlyphs">15.00</text>
<text x="1235.6" y="319.0" fill="#131722" stroke="#131722" stroke-width="0.15" textLength="30.2" lengthAdjust="spacingAndGlyphs">16.00</text>
<text x="1235.6" y="289.0" fill="#131722" stroke="#131722" stroke-width="0.15" textLength="30.2" lengthAdjust="spacingAndGlyphs">17.00</text>
<text x="1235.6" y="259.0" fill="#131722" stroke="#131722" stroke-width="0.15" textLength="30.2" lengthAdjust="spacingAndGlyphs">18.00</text>
<text x="1235.6" y="229.0" fill="#131722" stroke="#131722" stroke-width="0.15" textLength="30.2" lengthAdjust="spacingAndGlyphs">19.00</text>
<text x="1235.6" y="199.0" fill="#131722" stroke="#131722" stroke-width="0.15" textLength="30.2" lengthAdjust="spacingAndGlyphs">20.00</text>
<text x="1235.6" y="169.0" fill="#131722" stroke="#131722" stroke-width="0.15" textLength="30.2" lengthAdjust="spacingAndGlyphs">21.00</text>
<text x="1235.6" y="139.0" fill="#131722" stroke="#131722" stroke-width="0.15" textLength="30.2" lengthAdjust="spacingAndGlyphs">22.00</text>
<text x="1235.6" y="109.0" fill="#131722" stroke="#131722" stroke-width="0.15" textLength="30.2" lengthAdjust="spacingAndGlyphs">23.00</text>
<text x="1235.6" y="79.0" fill="#131722" stroke="#131722" stroke-width="0.15" textLength="30.2" lengthAdjust="spacingAndGlyphs">24.00</text>
<text x="1235.6" y="602.0" fill="#131722" stroke="#131722" stroke-width="0.15" textLength="30.2" lengthAdjust="spacingAndGlyphs">80.00</text>
<text x="1235.6" y="648.0" fill="#131722" stroke="#131722" stroke-width="0.15" textLength="30.2" lengthAdjust="spacingAndGlyphs">60.00</text>
<text x="1235.6" y="693.0" fill="#131722" stroke="#131722" stroke-width="0.15" textLength="30.2" lengthAdjust="spacingAndGlyphs">40.00</text>
<text x="1235.6" y="739.0" fill="#131722" stroke="#131722" stroke-width="0.15" textLength="30.2" lengthAdjust="spacingAndGlyphs">20.00</text>
<text x="47.5" y="762.0" fill="#131722" stroke="#131722" stroke-width="0.15" text-anchor="middle">14</text>
<text x="158.5" y="762.0" fill="#131722" stroke="#131722" stroke-width="0.75" text-anchor="middle" textLength="17.2" lengthAdjust="spacingAndGlyphs">Jul</text>
<text x="262.5" y="762.0" fill="#131722" stroke="#131722" stroke-width="0.15" text-anchor="middle">17</text>
<text x="360.5" y="762.0" fill="#131722" stroke="#131722" stroke-width="0.75" text-anchor="middle" textLength="21.2" lengthAdjust="spacingAndGlyphs">Aug</text>
<text x="445.5" y="762.0" fill="#131722" stroke="#131722" stroke-width="0.15" text-anchor="middle">14</text>
<text x="562.5" y="762.0" fill="#131722" stroke="#131722" stroke-width="0.75" text-anchor="middle" textLength="20.6" lengthAdjust="spacingAndGlyphs">Sep</text>
<text x="673.5" y="762.0" fill="#131722" stroke="#131722" stroke-width="0.15" text-anchor="middle">18</text>
<text x="758.5" y="762.0" fill="#131722" stroke="#131722" stroke-width="0.75" text-anchor="middle" textLength="20.0" lengthAdjust="spacingAndGlyphs">Oct</text>
<text x="855.5" y="762.0" fill="#131722" stroke="#131722" stroke-width="0.15" text-anchor="middle">16</text>
<text x="959.5" y="762.0" fill="#131722" stroke="#131722" stroke-width="0.75" text-anchor="middle" textLength="21.6" lengthAdjust="spacingAndGlyphs">Nov</text>
<text x="1044.5" y="762.0" fill="#131722" stroke="#131722" stroke-width="0.15" text-anchor="middle">14</text>
<text x="1155.5" y="762.0" fill="#131722" stroke="#131722" stroke-width="0.75" text-anchor="middle" textLength="21.2" lengthAdjust="spacingAndGlyphs">Dec</text>
<g fill="none" stroke="#e0e3eb">
<rect x="10" y="27" width="1282" height="745" stroke-width="2" stroke="#ecedf3"/>
<line x1="1228.5" y1="27" x2="1228.5" y2="772" stroke-width="1" stroke="#e2e3e7"/>
<line x1="10" y1="565.5" x2="1292" y2="565.5" stroke-width="1"/>
<line x1="10" y1="744.5" x2="1292" y2="744.5" stroke-width="1"/>
</g>
<rect x="10" y="375" width="1" height="3" fill="#ef5350"/>
<rect x="1231.9" y="31.1" width="56" height="25.8" rx="3.5" fill="#fff" stroke="#e6e8ef" stroke-width="1.5"/>
<text x="1241.5" y="48.8" fill="#131722" stroke="#131722" stroke-width="0.15" textLength="27.3" lengthAdjust="spacingAndGlyphs">USDT</text>
<path d="M1228.0 127.0 H1269.0 Q1271.0 127.0 1271.0 129.0 V142.0 Q1271.0 144.0 1269.0 144.0 H1228.0 Q1228.0 144.0 1228.0 144.0 V127.0 Q1228.0 127.0 1228.0 127.0 Z" fill="#0000ff"/>
<text x="1235.8" y="139.8" fill="#fff" stroke="#fff" stroke-width="0.3" textLength="30.2" lengthAdjust="spacingAndGlyphs">22.00</text>
<path d="M1228.0 472.0 H1269.0 Q1271.0 472.0 1271.0 474.0 V487.0 Q1271.0 489.0 1269.0 489.0 H1228.0 Q1228.0 489.0 1228.0 489.0 V472.0 Q1228.0 472.0 1228.0 472.0 Z" fill="#0000ff"/>
<text x="1235.6" y="484.8" fill="#fff" stroke="#fff" stroke-width="0.3" textLength="30.2" lengthAdjust="spacingAndGlyphs">10.50</text>
<path d="M1228.0 153.0 H1286.0 Q1288.0 153.0 1288.0 155.0 V196.0 Q1288.0 198.0 1286.0 198.0 H1228.0 Q1228.0 198.0 1228.0 198.0 V153.0 Q1228.0 153.0 1228.0 153.0 Z" fill="#26a69a"/>
<text x="1235.8" y="165.8" fill="#fff" stroke="#fff" stroke-width="0.3" textLength="30.3" lengthAdjust="spacingAndGlyphs">21.14</text>
<text x="1235.5" y="179.6" fill="#fff" stroke="#fff" stroke-width="0.3" textLength="43.3" lengthAdjust="spacingAndGlyphs">+50.89%</text>
<text x="1235.7" y="193.9" fill="#c9e9e5" stroke="#c9e9e5" stroke-width="0.3" textLength="46.8" lengthAdjust="spacingAndGlyphs">07:40:16</text>
<path d="M1166.0 153.0 H1227.0 Q1227.0 153.0 1227.0 153.0 V170.0 Q1227.0 170.0 1227.0 170.0 H1166.0 Q1164.0 170.0 1164.0 168.0 V155.0 Q1164.0 153.0 1166.0 153.0 Z" fill="#26a69a"/>
<text x="1168.6" y="165.8" fill="#fff" stroke="#fff" stroke-width="0.3" textLength="54.6" lengthAdjust="spacingAndGlyphs">AVAXUSDT</text>
<path d="M1197.0 206.0 H1227.0 Q1227.0 206.0 1227.0 206.0 V223.0 Q1227.0 223.0 1227.0 223.0 H1197.0 Q1195.0 223.0 1195.0 221.0 V208.0 Q1195.0 206.0 1197.0 206.0 Z" fill="#2962ff"/>
<text x="1200.0" y="218.8" fill="#fff" stroke="#fff" stroke-width="0.3" textLength="23.0" lengthAdjust="spacingAndGlyphs">EMA</text>
<path d="M1228.0 206.0 H1269.0 Q1271.0 206.0 1271.0 208.0 V221.0 Q1271.0 223.0 1269.0 223.0 H1228.0 Q1228.0 223.0 1228.0 223.0 V206.0 Q1228.0 206.0 1228.0 206.0 Z" fill="#2962ff"/>
<text x="1235.6" y="218.8" fill="#fff" stroke="#fff" stroke-width="0.3" textLength="30.2" lengthAdjust="spacingAndGlyphs">19.35</text>
<path d="M1178.0 354.0 H1227.0 Q1227.0 354.0 1227.0 354.0 V371.0 Q1227.0 371.0 1227.0 371.0 H1178.0 Q1176.0 371.0 1176.0 369.0 V356.0 Q1176.0 354.0 1178.0 354.0 Z" fill="#f23645"/>
<text x="1181.3" y="366.8" fill="#fff" stroke="#fff" stroke-width="0.3" textLength="41.5" lengthAdjust="spacingAndGlyphs">SMA:MA</text>
<path d="M1228.0 354.0 H1269.0 Q1271.0 354.0 1271.0 356.0 V369.0 Q1271.0 371.0 1269.0 371.0 H1228.0 Q1228.0 371.0 1228.0 371.0 V354.0 Q1228.0 354.0 1228.0 354.0 Z" fill="#f23645"/>
<text x="1235.6" y="366.8" fill="#fff" stroke="#fff" stroke-width="0.3" textLength="30.2" lengthAdjust="spacingAndGlyphs">14.44</text>
<path d="M1203.0 627.0 H1227.0 Q1227.0 627.0 1227.0 627.0 V644.0 Q1227.0 644.0 1227.0 644.0 H1203.0 Q1201.0 644.0 1201.0 642.0 V629.0 Q1201.0 627.0 1203.0 627.0 Z" fill="#a055c4"/>
<text x="1205.8" y="639.8" fill="#fff" stroke="#fff" stroke-width="0.3" textLength="16.5" lengthAdjust="spacingAndGlyphs">RSI</text>
<path d="M1228.0 627.0 H1269.0 Q1271.0 627.0 1271.0 629.0 V642.0 Q1271.0 644.0 1269.0 644.0 H1228.0 Q1228.0 644.0 1228.0 644.0 V627.0 Q1228.0 627.0 1228.0 627.0 Z" fill="#a055c4"/>
<text x="1235.7" y="639.8" fill="#fff" stroke="#fff" stroke-width="0.3" textLength="29.4" lengthAdjust="spacingAndGlyphs">63.31</text>
<g fill="#1c2030"><path d="M9.9 784.1H18.3V793.6H13.4V788.1H9.9Z"/><circle cx="21.1" cy="786" r="1.6"/><path d="M25.3 784.1H29.7L25.7 793.6H21Z"/></g>
<text x="33.3" y="793.6" fill="#2a2e39" stroke="#2a2e39" stroke-width="0" font-size="12" textLength="69.9" lengthAdjust="spacingAndGlyphs">TradingView</text>
</svg>
</body></html>
